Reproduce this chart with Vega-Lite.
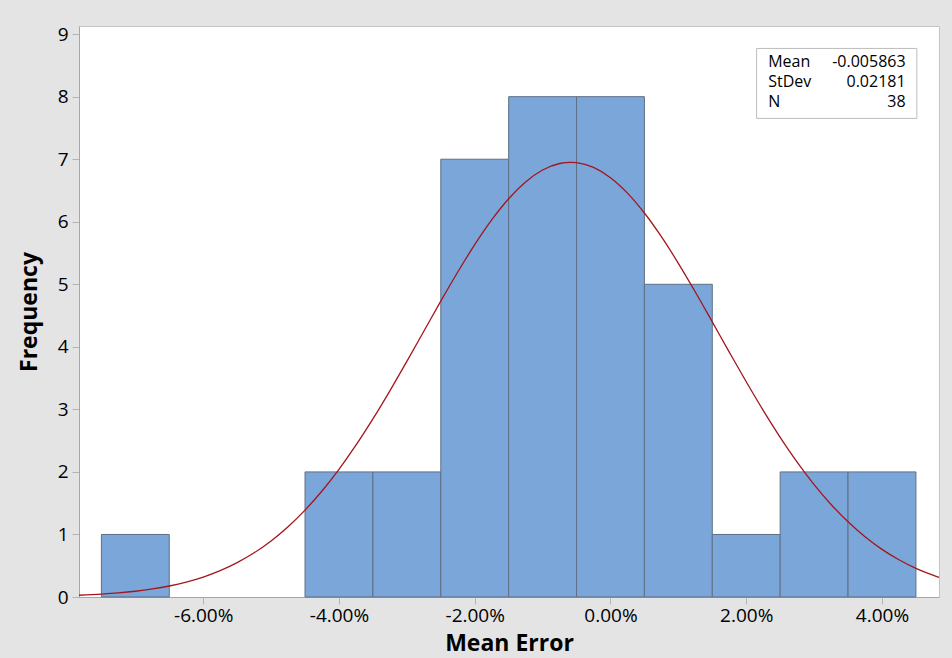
{
  "$schema": "https://vega.github.io/schema/vega-lite/v6.json",
  "width": 860,
  "height": 571,
  "autosize": {"type": "none"},
  "padding": {"left": 79, "top": 26, "right": 13, "bottom": 61},
  "background": "#e4e4e4",
  "config": {
    "font": "Open Sans",
    "view": {"fill": "white", "stroke": "#c4c4c4", "strokeWidth": 1},
    "axis": {
      "grid": false,
      "labelFont": "Open Sans",
      "labelFontSize": 19,
      "labelColor": "#000000",
      "domainColor": "#a6a6a6",
      "tickColor": "#b4b4b4",
      "tickSize": 7,
      "titleFont": "Open Sans",
      "titleFontSize": 23,
      "titleFontWeight": "bold",
      "titleColor": "#000000"
    }
  },
  "datasets": {
    "bins": [
      {"bin_start": -7.5, "bin_end": -6.5, "count": 1},
      {"bin_start": -4.5, "bin_end": -3.5, "count": 2},
      {"bin_start": -3.5, "bin_end": -2.5, "count": 2},
      {"bin_start": -2.5, "bin_end": -1.5, "count": 7},
      {"bin_start": -1.5, "bin_end": -0.5, "count": 8},
      {"bin_start": -0.5, "bin_end": 0.5, "count": 8},
      {"bin_start": 0.5, "bin_end": 1.5, "count": 5},
      {"bin_start": 1.5, "bin_end": 2.5, "count": 1},
      {"bin_start": 2.5, "bin_end": 3.5, "count": 2},
      {"bin_start": 3.5, "bin_end": 4.5, "count": 2}
    ],
    "curve": [
      {"x": -7.83, "freq": 0.028},
      {"x": -7.5, "freq": 0.0457},
      {"x": -7.25, "freq": 0.0653},
      {"x": -7.0, "freq": 0.092},
      {"x": -6.75, "freq": 0.1282},
      {"x": -6.5, "freq": 0.176},
      {"x": -6.25, "freq": 0.2387},
      {"x": -6.0, "freq": 0.3192},
      {"x": -5.75, "freq": 0.4216},
      {"x": -5.5, "freq": 0.5494},
      {"x": -5.25, "freq": 0.7064},
      {"x": -5.0, "freq": 0.8969},
      {"x": -4.75, "freq": 1.1238},
      {"x": -4.5, "freq": 1.3894},
      {"x": -4.25, "freq": 1.6954},
      {"x": -4.0, "freq": 2.0421},
      {"x": -3.75, "freq": 2.4273},
      {"x": -3.5, "freq": 2.8476},
      {"x": -3.25, "freq": 3.2971},
      {"x": -3.0, "freq": 3.7679},
      {"x": -2.75, "freq": 4.2492},
      {"x": -2.5, "freq": 4.73},
      {"x": -2.25, "freq": 5.1962},
      {"x": -2.0, "freq": 5.6337},
      {"x": -1.75, "freq": 6.0287},
      {"x": -1.5, "freq": 6.3669},
      {"x": -1.25, "freq": 6.6364},
      {"x": -1.0, "freq": 6.827},
      {"x": -0.75, "freq": 6.9314},
      {"x": -0.5863, "freq": 6.9509},
      {"x": -0.5, "freq": 6.9455},
      {"x": -0.25, "freq": 6.8687},
      {"x": 0.0, "freq": 6.7042},
      {"x": 0.25, "freq": 6.4582},
      {"x": 0.5, "freq": 6.1401},
      {"x": 0.75, "freq": 5.7613},
      {"x": 1.0, "freq": 5.3353},
      {"x": 1.25, "freq": 4.8765},
      {"x": 1.5, "freq": 4.3989},
      {"x": 1.75, "freq": 3.9162},
      {"x": 2.0, "freq": 3.4411},
      {"x": 2.25, "freq": 2.9839},
      {"x": 2.5, "freq": 2.554},
      {"x": 2.75, "freq": 2.1573},
      {"x": 3.0, "freq": 1.7982},
      {"x": 3.25, "freq": 1.4799},
      {"x": 3.5, "freq": 1.2018},
      {"x": 3.75, "freq": 0.9632},
      {"x": 4.0, "freq": 0.7616},
      {"x": 4.25, "freq": 0.5949},
      {"x": 4.5, "freq": 0.4581},
      {"x": 4.75, "freq": 0.3485},
      {"x": 4.84, "freq": 0.3147}
    ]
  },
  "layer": [
    {
      "data": {"name": "bins"},
      "mark": {"type": "rect", "fill": "#7ba6d9", "stroke": "#5f6f84", "strokeWidth": 1},
      "encoding": {
        "x": {
          "field": "bin_start",
          "type": "quantitative",
          "title": "Mean Error",
          "scale": {"domain": [-7.83, 4.84], "nice": false, "zero": false},
          "axis": {
            "values": [-6, -4, -2, 0, 2, 4],
            "labelExpr": "(datum.value < 0 ? '-' : '') + format(abs(datum.value), '.2f') + '%'",
            "labelPadding": 2,
            "titlePadding": 7
          }
        },
        "x2": {"field": "bin_end"},
        "y": {
          "field": "count",
          "type": "quantitative",
          "title": "Frequency",
          "scale": {"domain": [0, 9.13], "nice": false},
          "axis": {
            "values": [0, 1, 2, 3, 4, 5, 6, 7, 8, 9],
            "format": "d",
            "labelPadding": 4,
            "titlePadding": 16
          }
        }
      }
    },
    {
      "data": {"name": "curve"},
      "mark": {"type": "line", "color": "#a3161c", "strokeWidth": 1.3, "interpolate": "monotone"},
      "encoding": {
        "x": {"field": "x", "type": "quantitative"},
        "y": {"field": "freq", "type": "quantitative"}
      }
    },
    {
      "data": {"values": [{}]},
      "mark": {"type": "rect", "fill": "white", "stroke": "#bdbdbd", "strokeWidth": 1},
      "encoding": {
        "x": {"datum": 2.153},
        "x2": {"datum": 4.514},
        "y": {"datum": 8.771},
        "y2": {"datum": 7.652}
      }
    },
    {
      "data": {"values": [{}]},
      "mark": {
        "type": "text",
        "text": ["Mean", "StDev", "N"],
        "align": "left",
        "baseline": "alphabetic",
        "fontSize": 16,
        "lineHeight": 20,
        "color": "#000000"
      },
      "encoding": {
        "x": {"datum": 2.324},
        "y": {"datum": 8.477}
      }
    },
    {
      "data": {"values": [{}]},
      "mark": {
        "type": "text",
        "text": ["-0.005863", "0.02181", "38"],
        "align": "right",
        "baseline": "alphabetic",
        "fontSize": 16,
        "lineHeight": 20,
        "color": "#000000"
      },
      "encoding": {
        "x": {"datum": 4.348},
        "y": {"datum": 8.477}
      }
    }
  ]
}
